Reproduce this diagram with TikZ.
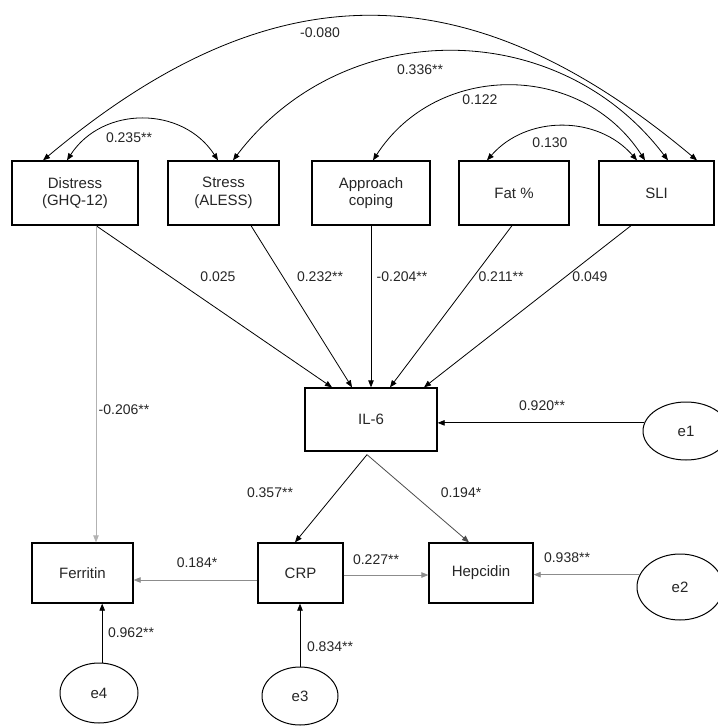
\documentclass[tikz,border=0pt]{standalone}
\usepackage{fontspec}
\setmainfont{Liberation Sans}
\usetikzlibrary{arrows.meta,calc,shapes.geometric}
\begin{document}
\begin{tikzpicture}[x=1pt,y=-1pt,
  txt/.style={font=\fontsize{14}{16.5}\selectfont, text=black!85},
  btxt/.style={font=\fontsize{15}{17.5}\selectfont, text=black!85},
  box/.style={btxt, draw, line width=1.3pt, align=center, inner sep=0pt},
  err/.style={btxt, draw, ellipse, line width=1pt, inner sep=0pt},
  pth/.style={-{Triangle[length=7pt,width=5.5pt]}, line width=0.8pt},
  gpth/.style={pth, draw=black!45},
  cov/.style={{Triangle[length=7pt,width=5.5pt]}-{Triangle[length=7pt,width=5.5pt]}, line width=0.8pt},
  lab/.style={txt, inner sep=1pt},
]
\useasboundingbox (0,0) rectangle (717,727);
\fill[white] (0,0) rectangle (717,727);

% top row
\node[box, minimum width=126pt, minimum height=64pt] (dis) at (75,193) {Distress\\(GHQ-12)};
\node[box, minimum width=111pt, minimum height=64pt] (str) at (223.5,193) {Stress\\(ALESS)};
\node[box, minimum width=118pt, minimum height=64pt] (app) at (371,193) {Approach\\coping};
\node[box, minimum width=110pt, minimum height=64pt] (fat) at (514,193) {Fat \%};
\node[box, minimum width=115pt, minimum height=64pt] (sli) at (656.5,193) {SLI};

% middle
\node[box, minimum width=132pt, minimum height=63pt] (il6) at (371,419.5) {IL-6};
\node[err, minimum width=86pt, minimum height=58pt] (e1) at (686,431) {e1};

% bottom row
\node[box, minimum width=101pt, minimum height=60pt] (fer) at (82.5,573) {Ferritin};
\node[box, minimum width=85pt, minimum height=60pt] (crp) at (300.5,573) {CRP};
\node[box, minimum width=104pt, minimum height=60pt] (hep) at (481,573) {Hepcidin};
\node[err, minimum width=86pt, minimum height=66pt] (e2) at (680,587) {e2};
\node[err, minimum width=76pt, minimum height=58pt] (e3) at (300,696) {e3};
\node[err, minimum width=78pt, minimum height=60pt] (e4) at (99,693) {e4};

% covariance arcs
\draw[cov] ([xshift=-32pt]dis.north) .. controls +(229,-192) and +(-229,-192) .. ([xshift=40.5pt]sli.north);
\draw[cov] ([xshift=9.5pt]str.north) .. controls +(110,-145) and +(-110,-145) .. ([xshift=11.5pt]sli.north);
\draw[cov] ([xshift=2pt]app.north) .. controls +(64,-99) and +(-64,-99) .. ([xshift=-11.5pt]sli.north);
\draw[cov] ([xshift=-8pt]dis.north) .. controls +(35.5,-54.7) and +(-35.5,-54.7) .. ([xshift=-5.5pt]str.north);
\draw[cov] ([xshift=-27pt]fat.north) .. controls +(39.6,-45.3) and +(-39.6,-45.3) .. ([xshift=-19.5pt]sli.north);

% paths to IL-6
\draw[pth] ([xshift=21pt]dis.south) -- ([xshift=-39pt]il6.north);
\draw[pth] ([xshift=27.5pt]str.south) -- ([xshift=-19pt]il6.north);
\draw[pth] (app.south) -- (il6.north);
\draw[pth] ([xshift=-2pt]fat.south) -- ([xshift=19pt]il6.north);
\draw[pth] ([xshift=-25.5pt]sli.south) -- ([xshift=53pt]il6.north);
\draw[pth] (e1.169) -- (e1.169 -| il6.east);

% from IL-6
\coordinate (apex) at ([xshift=-4pt,yshift=-3pt]il6.south);
\draw[pth] (apex) -- ([xshift=-5.5pt]crp.north);
\draw[pth, draw=black!70] (apex) -- ([xshift=-12pt]hep.north);

% distress to ferritin
\draw[gpth, draw=black!30] ([xshift=21pt]dis.south) -- ([xshift=21pt]dis.south |- fer.north);

% bottom paths
\draw[gpth] ([yshift=-7pt]crp.west) -- ([yshift=-7pt]crp.west -| fer.east);
\draw[gpth] ([yshift=-2pt]crp.east) -- ([yshift=-2pt]crp.east -| hep.west);
\draw[gpth] (e2.163) -- (e2.163 -| hep.east);
\draw[pth] (e3.north) -- (e3.north |- crp.south);
\draw[pth] (e4.84) -- (e4.84 |- fer.south);

% labels
\node[lab] at (320,33) {-0.080};
\node[lab] at (420,70) {0.336**};
\node[lab] at (480,100) {0.122};
\node[lab] at (129,138) {0.235**};
\node[lab] at (550,143) {0.130};
\node[lab] at (218,277) {0.025};
\node[lab] at (320,277) {0.232**};
\node[lab] at (402,277) {-0.204**};
\node[lab] at (501,277) {0.211**};
\node[lab] at (590,277) {0.049};
\node[lab] at (124,410) {-0.206**};
\node[lab] at (542,406) {0.920**};
\node[lab] at (270,493) {0.357**};
\node[lab] at (461,493) {0.194*};
\node[lab] at (197,563) {0.184*};
\node[lab] at (376,560) {0.227**};
\node[lab] at (567,558) {0.938**};
\node[lab] at (131,633) {0.962**};
\node[lab] at (330,647) {0.834**};
\end{tikzpicture}
\end{document}
